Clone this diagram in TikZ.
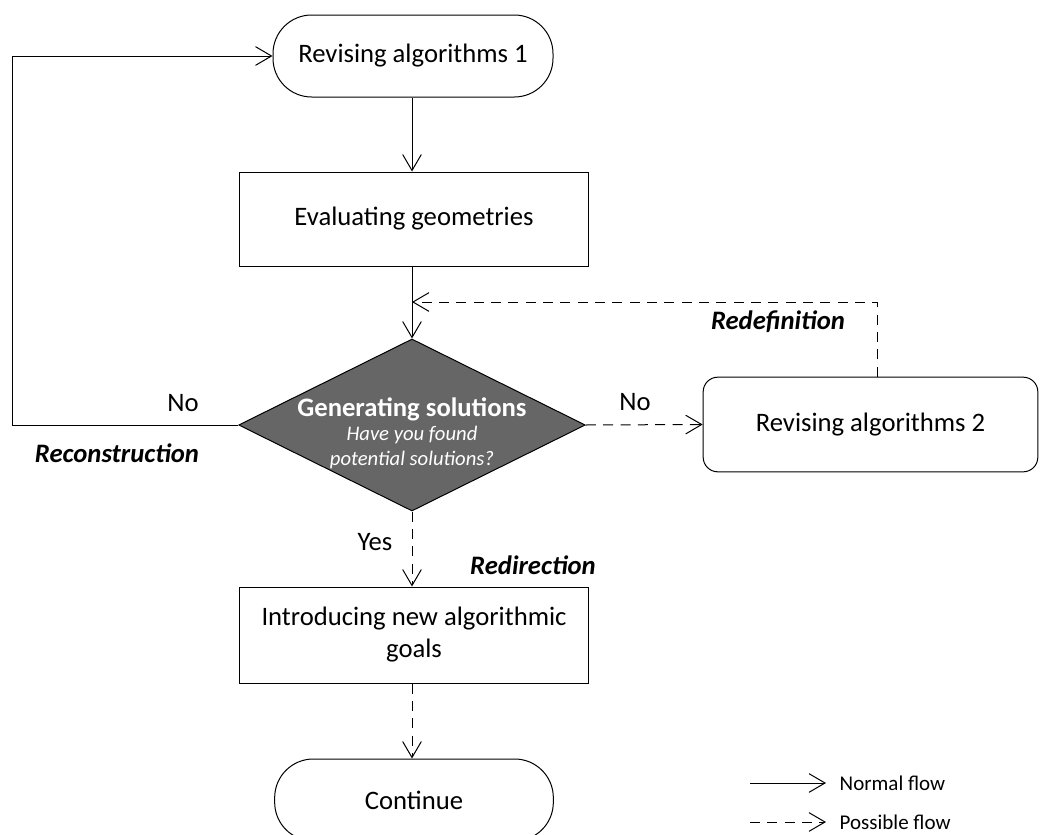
\documentclass[tikz,border=0pt]{standalone}
\usepackage{fontspec}
\setmainfont{Carlito}
\usetikzlibrary{arrows.meta,shapes.geometric,calc}
\begin{document}
\begin{tikzpicture}[x=0.75pt,y=-0.75pt,
  every node/.style={font=\fontsize{20}{24}\selectfont},
  conn/.style={line width=0.75pt,-{Straight Barb[length=12pt,width=14pt,line width=0.75pt]}},
  poss/.style={conn,dash pattern=on 7.5pt off 5.5pt},
  stadium/.style={draw,line width=0.75pt,rectangle,rounded corners=29pt,minimum width=210pt,minimum height=61.5pt,inner sep=0pt},
  procbox/.style={draw,line width=0.75pt,rectangle,minimum width=262pt,inner sep=0pt,align=center},
  decision/.style={draw,line width=0.75pt,diamond,fill={rgb,255:red,102;green,102;blue,102},minimum width=260pt,minimum height=129pt,inner sep=0pt},
  emph/.style={font=\fontsize{20}{24}\selectfont\bfseries\itshape},
  legtext/.style={font=\fontsize{15.75}{19}\selectfont,anchor=west}]
\useasboundingbox (0,0) rectangle (1040,835);
\clip (0,0) rectangle (1040,835);

% nodes
\node[stadium] (rev1) at (413,56) {Revising algorithms 1};
\node[procbox,minimum height=70.5pt] (eval) at (414,219) {Evaluating geometries};
\node[decision] (dec) at (412,425) {};
\node[align=center,text=white,inner sep=0pt] (dectext) at (412,433)
  {\textbf{Generating solutions}\\[-6pt]{\fontsize{15.5}{17}\selectfont\itshape Have you found}\\[-5pt]{\fontsize{15.5}{17}\selectfont\itshape potential solutions?}};
\node[draw,line width=0.75pt,rectangle,rounded corners=11pt,minimum width=251pt,minimum height=71pt,inner sep=0pt] (rev2) at (870.5,424.5) {Revising algorithms 2};
\node[procbox,minimum height=72pt] (intro) at (414,635) {Introducing new algorithmic\\[0pt]goals};
\node[stadium,minimum width=209pt] (cont) at (414,800) {Continue};

% helper coordinates
\coordinate (lc) at (12,425);
\coordinate (rd) at (877,302);

% connectors
\draw[conn] (rev1.south -| dec.north) -- (eval.north -| dec.north);
\draw[conn] (eval.south -| dec.north) -- (dec.north);
\draw[conn] (dec.west) -- (lc) |- (rev1.west);
\draw[poss] (dec.east) -- (rev2.west);
\draw[poss] (rev2.north -| rd) -- (rd) -- (rd -| dec.north);
\draw[poss] (dec.south) -- (intro.north -| dec.south);
\draw[poss] (intro.south -| dec.south) -- (cont.north -| dec.south);

% labels
\node (nol) at (183,403) {No};
\node[emph] (recon) at (117,453) {Reconstruction};
\node (nor) at (635,402) {No};
\node[emph] (redef) at (778,322) {Redefinition};
\node (yes) at (375,542) {Yes};
\node[emph] (redir) at (533,565) {Redirection};

% legend
\coordinate (l1a) at (750,783);
\coordinate (l1b) at (826,783);
\coordinate (l2a) at (750,822);
\coordinate (l2b) at (826,822);
\draw[conn] (l1a) -- (l1b);
\draw[poss] (l2a) -- (l2b);
\node[legtext] (nf) at (835,783) {Normal flow};
\node[legtext] (pf) at (835,822) {Possible flow};
\end{tikzpicture}
\end{document}
